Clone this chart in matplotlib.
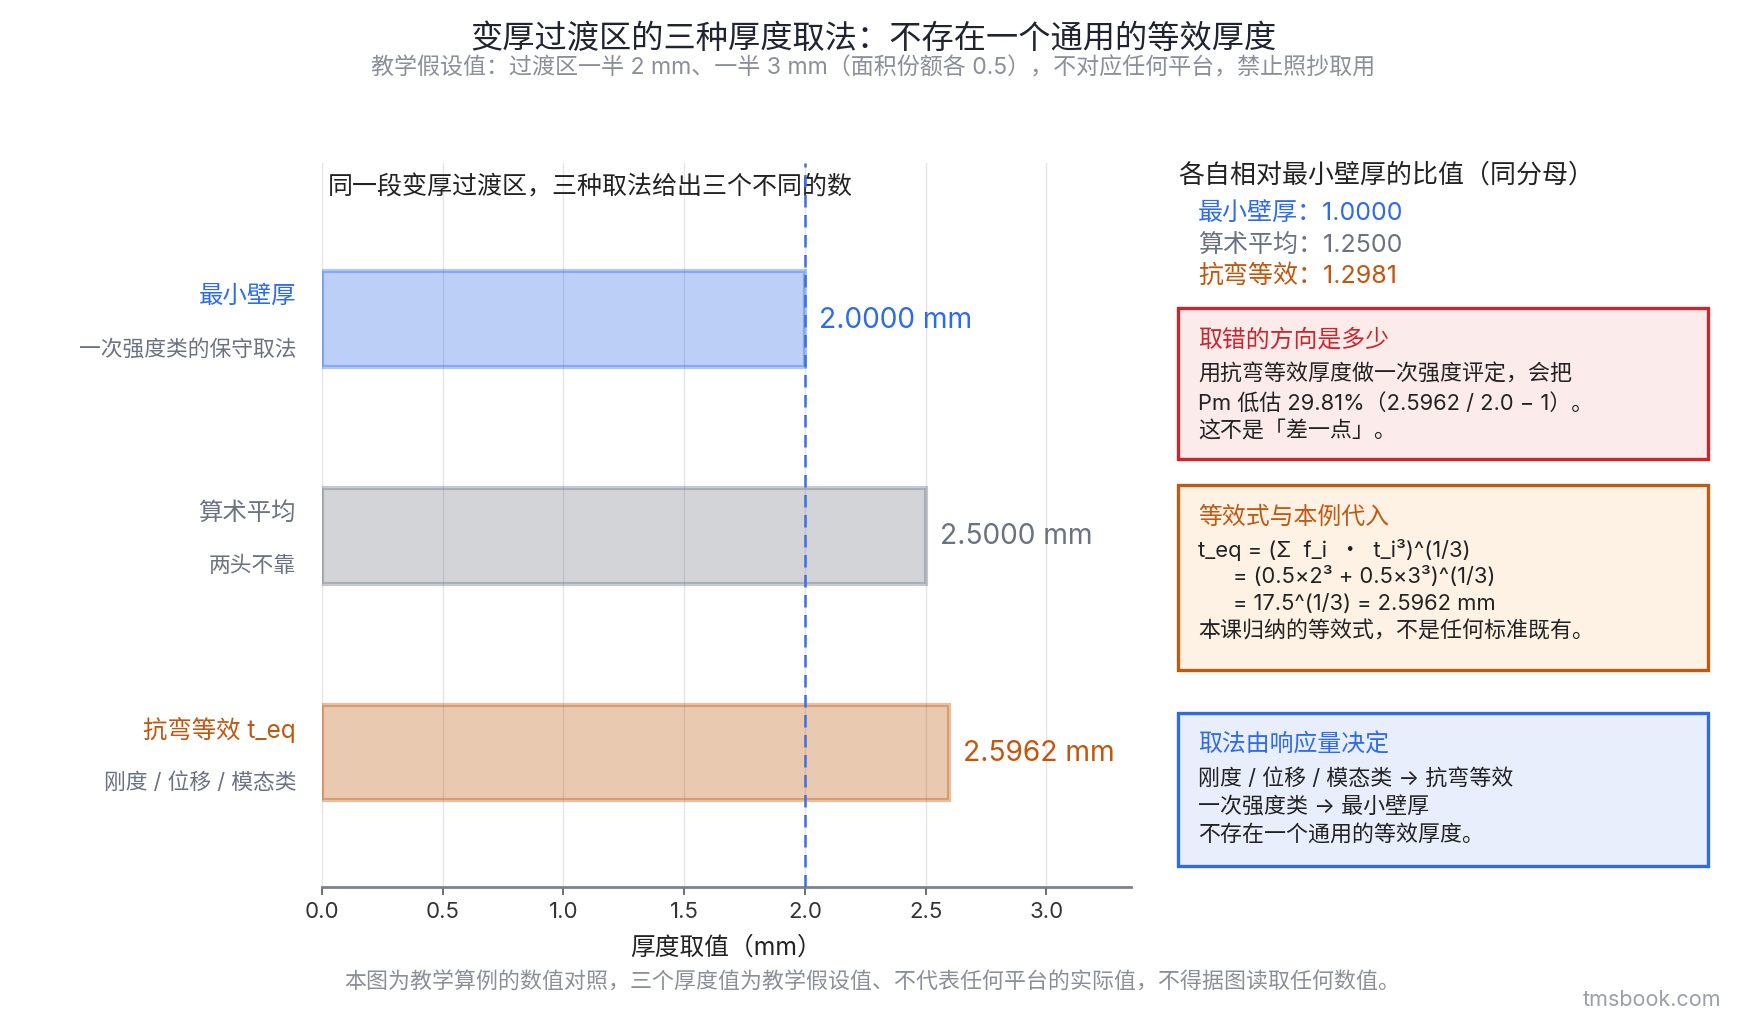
import matplotlib
matplotlib.use("Agg")
import matplotlib.pyplot as plt
from matplotlib.patches import Rectangle
import matplotlib.transforms as mtransforms

plt.rcParams['font.family'] = ['Inter', 'Noto Sans CJK SC', 'DejaVu Sans']

# datos
metodos = ["最小壁厚", "算术平均", "抗弯等效 t_eq"]
notas = ["一次强度类的保守取法", "两头不靠", "刚度 / 位移 / 模态类"]
nombres_cortos = ["最小壁厚", "算术平均", "抗弯等效"]
espesores = [2.0000, 2.5000, 2.5962]
colores = ["#2F6BE8", "#6B7280", "#C0570F"]
alfas = [0.32, 0.30, 0.32]
linea_ref = 2.0
xticks = [0.0, 0.5, 1.0, 1.5, 2.0, 2.5, 3.0]

W, H = 1740, 1020
fig = plt.figure(figsize=(W / 100, H / 100), dpi=100)


def fx(px):
    return px / W


def fy(py):
    return 1 - py / H


ax = fig.add_axes([fx(322), fy(888), fx(1131) - fx(322), (888 - 164) / H])

pos = list(range(len(metodos)))
for i, (v, c, a) in enumerate(zip(espesores, colores, alfas)):
    ax.barh(pos[i], v, height=0.44, color=c, alpha=a, edgecolor="none", zorder=2)
    ax.barh(pos[i], v, height=0.44, facecolor="none", edgecolor=c, alpha=0.38,
            linewidth=3, zorder=3)
    ax.text(v + 0.06, pos[i], f"{v:.4f} mm", color=c, fontsize=20.3,
            va="center", ha="left")

ax.axvline(linea_ref, color="#3D6FE0", linestyle=(0, (5, 3)), linewidth=1.8, zorder=4)

ax.set_xlim(0, 3.35)
ax.set_ylim(2.62, -0.72)
ax.set_yticks([])
ax.set_xticks(xticks)
ax.set_xticklabels([f"{t:.1f}" for t in xticks], fontsize=16, color="#333333")
ax.tick_params(axis="x", length=6, width=1.2, color="#555555", pad=4)
ax.grid(axis="x", color="#E3E5E9", linewidth=1, zorder=0)
ax.set_axisbelow(True)
for s in ["top", "right", "left"]:
    ax.spines[s].set_visible(False)
ax.spines["bottom"].set_color("#7D818C")
ax.spines["bottom"].set_linewidth(2)
ax.set_xlabel("厚度取值（mm）", fontsize=17.8, color="#222222", labelpad=10)

# etiquetas de categoria a la izquierda
tr = mtransforms.blended_transform_factory(ax.transAxes, ax.transData)
for i in pos:
    ax.text(-0.032, pos[i] - 0.11, metodos[i], transform=tr, ha="right",
            va="center", fontsize=17.6, color=colores[i])
    ax.text(-0.032, pos[i] + 0.135, notas[i], transform=tr, ha="right",
            va="center", fontsize=15.7, color="#6B7280")

ax.text(0.007, 0.968, "同一段变厚过渡区，三种取法给出三个不同的数",
        transform=ax.transAxes, ha="left", va="center", fontsize=18,
        color="#222222")

# titulos
fig.text(0.502, fy(39), "变厚过渡区的三种厚度取法：不存在一个通用的等效厚度",
         ha="center", va="center", fontsize=23.2, color="#1F2430")
fig.text(0.502, fy(68),
         "教学假设值：过渡区一半 2 mm、一半 3 mm（面积份额各 0.5），不对应任何平台，禁止照抄取用",
         ha="center", va="center", fontsize=16.6, color="#8A8F99")

# columna derecha: cocientes
fig.text(fx(1178), fy(175), "各自相对最小壁厚的比值（同分母）", ha="left",
         va="center", fontsize=18.7, color="#222222")
for i, yy in enumerate([214, 245, 276]):
    fig.text(fx(1198), fy(yy), f"{nombres_cortos[i]}：{espesores[i] / espesores[0]:.4f}",
             ha="left", va="center", fontsize=18, color=colores[i])

# cajas
cajas = [
    (309, 460, "#C8282D", "#FCEBEB", "取错的方向是多少", 340,
     [(0, 374, "用抗弯等效厚度做一次强度评定，会把"),
      (0, 403, "Pm 低估 29.81%（2.5962 / 2.0 − 1）。"),
      (0, 431, "这不是「差一点」。")]),
    (486, 671, "#BF5A14", "#FDF2E3", "等效式与本例代入", 518,
     [(0, 550, "t_eq = (Σ  f_i  ・  t_i³)^(1/3)"),
      (35, 577, "= (0.5×2³ + 0.5×3³)^(1/3)"),
      (35, 604, "= 17.5^(1/3) = 2.5962 mm"),
      (0, 631, "本课归纳的等效式，不是任何标准既有。")]),
    (714, 867, "#2F6BE8", "#E8EEFB", "取法由响应量决定", 745,
     [(0, 779, "刚度 / 位移 / 模态类 → 抗弯等效"),
      (0, 807, "一次强度类 → 最小壁厚"),
      (0, 834, "不存在一个通用的等效厚度。")]),
]
for y0, y1, borde, fondo, titulo, yt, lineas in cajas:
    fig.patches.append(Rectangle((fx(1178), fy(y1)), fx(1708) - fx(1178),
                                 (y1 - y0) / H, transform=fig.transFigure,
                                 facecolor=fondo, edgecolor=borde, linewidth=2.4))
    fig.text(fx(1198), fy(yt), titulo, ha="left", va="center", fontsize=17.2,
             color=borde)
    for dx, yy, txt in lineas:
        fig.text(fx(1198 + dx), fy(yy), txt, ha="left", va="center",
                 fontsize=15.8, color="#222222")

fig.text(0.501, fy(982),
         "本图为教学算例的数值对照，三个厚度值为教学假设值、不代表任何平台的实际值，不得据图读取任何数值。",
         ha="center", va="center", fontsize=15.8, color="#8A8F99")
fig.text(fx(1721), fy(1000), "tmsbook.com", ha="right", va="center",
         fontsize=15.5, color="#9AA0A8")

fig.savefig("out.png", dpi=100)
